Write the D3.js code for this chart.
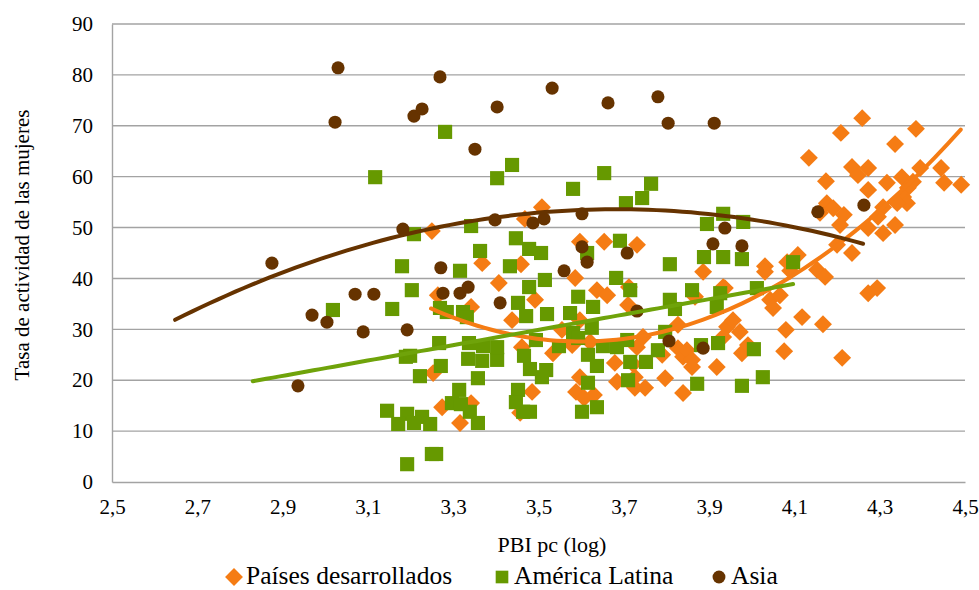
<!DOCTYPE html>
<html>
<head>
<meta charset="utf-8">
<script src="https://cdn.jsdelivr.net/npm/d3@7"></script>
<style>
  html, body { margin: 0; padding: 0; background: #fff; }
  svg text { font-family: "Liberation Serif", "Times New Roman", serif !important; fill: #000; }
</style>
</head>
<body>
<svg id="chart" width="979" height="590"></svg>
<script>
// Tasa de actividad de las mujeres vs. PBI per cápita (log)

const xTicks = [2.5, 2.7, 2.9, 3.1, 3.3, 3.5, 3.7, 3.9, 4.1, 4.3, 4.5];
const yTicks = [0, 10, 20, 30, 40, 50, 60, 70, 80, 90];
const seriesNames = ["Países desarrollados", "América Latina", "Asia"];
const seriesColors = ["#F57C14", "#669900", "#663300"];
const trendColors = ["#F57C14", "#6FA30A", "#663300"];

// Países desarrollados [PBI pc (log), tasa]
const desarrollados = [
  [3.250,49.3],[3.368,43.0],[3.407,39.1],[3.264,36.7],[3.342,34.4],[3.253,21.4],[3.274,14.7],[3.342,15.5],[3.316,11.6],
  [3.508,54.0],[3.468,51.7],[3.597,47.2],[3.654,47.2],[3.731,46.6],[3.459,42.8],[3.586,40.1],[3.886,41.3],
  [3.492,35.8],[3.637,37.7],[3.661,36.7],[3.712,38.3],[3.710,34.8],[3.937,38.1],[3.867,36.4],
  [3.438,31.8],[3.597,31.8],[3.555,29.9],[3.534,25.3],[3.461,26.5],[3.579,26.9],[3.621,27.5],[3.731,26.5],[3.745,28.5],
  [3.790,25.0],[3.679,23.4],[3.722,23.2],[3.797,20.4],[3.726,20.6],[3.684,19.7],[3.827,26.3],[3.839,24.6],[3.860,22.6],
  [3.918,22.6],[3.827,30.9],[3.942,30.5],[3.956,31.8],[3.972,29.5],[3.977,25.3],[3.485,17.7],[3.588,17.7],[3.607,16.5],
  [3.630,17.1],[3.726,18.5],[3.750,18.5],[3.839,17.5],[3.457,13.6],[3.597,20.6],[3.933,38.3],[4.043,35.8],[3.991,26.9],
  [3.933,28.5],[3.848,25.9],[3.860,24.0],
  [4.259,71.5],[4.209,68.6],[4.385,69.4],[4.336,66.4],[4.134,63.7],[4.235,61.9],[4.273,61.7],[4.249,60.3],[4.174,59.1],
  [4.317,58.8],[4.444,61.7],[4.451,58.8],[4.491,58.4],[4.395,61.7],[4.352,59.9],[4.378,59.0],[4.366,57.8],[4.273,57.4],
  [4.355,56.0],[4.364,54.8],[4.176,54.8],[4.191,53.8],[4.216,52.5],[4.160,52.9],[4.308,54.0],[4.296,52.1],[4.341,54.8],
  [4.336,50.5],[4.308,48.9],[4.273,49.9],[4.207,50.5],[4.200,46.6],[4.235,45.0],[4.108,44.6],[4.031,42.4],[4.031,41.3],
  [4.083,43.2],[4.090,41.5],[4.153,41.7],[4.172,40.3],[4.273,37.1],[4.294,38.1],[4.066,36.7],[4.050,34.2],[4.118,32.4],
  [4.080,29.9],[4.167,31.0],[4.076,25.7],[4.212,24.4]
];

// América Latina [PBI pc (log), tasa]
const americaLatina = [
  [3.281,68.8],[3.117,59.9],[3.403,59.7],[3.208,48.7],[3.342,50.3],[3.363,45.4],[3.180,42.4],[3.316,41.5],[3.203,37.7],
  [3.018,33.8],[3.157,34.0],[3.269,34.2],[3.285,33.4],[3.323,33.4],[3.332,32.4],[3.267,27.3],[3.189,24.6],[3.199,24.8],
  [3.271,22.8],[3.222,20.8],[3.337,27.3],[3.370,26.7],[3.335,24.2],[3.368,23.8],[3.403,24.0],[3.403,26.5],[3.358,20.4],
  [3.314,18.1],[3.145,14.0],[3.192,13.4],[3.227,12.8],[3.171,11.4],[3.208,11.6],[3.246,11.4],[3.297,15.5],[3.318,15.3],
  [3.339,13.8],[3.358,11.6],[3.192,3.5],[3.250,5.5],[3.260,5.5],
  [3.438,62.3],[3.581,57.6],[3.654,60.7],[3.764,58.6],[3.743,55.8],[3.705,54.8],[3.933,52.7],[3.895,50.7],[3.980,51.1],
  [3.447,47.9],[3.478,45.8],[3.506,45.0],[3.433,42.4],[3.614,45.0],[3.691,47.4],[3.888,44.2],[3.933,44.2],[3.977,43.8],
  [3.808,42.8],[3.515,39.7],[3.682,40.1],[3.478,38.3],[3.715,37.7],[3.593,36.4],[3.860,37.7],[3.926,37.1],[3.808,35.8],
  [3.820,34.0],[3.918,34.4],[3.452,35.2],[3.471,32.6],[3.520,33.0],[3.574,33.2],[3.628,34.4],[3.625,30.3],[3.581,29.3],
  [3.593,28.3],[3.548,26.7],[3.494,27.9],[3.466,24.8],[3.480,22.2],[3.518,22.0],[3.508,20.6],[3.452,18.1],[3.447,15.7],
  [3.464,13.8],[3.480,13.8],[3.616,19.5],[3.602,13.8],[3.637,14.7],[3.616,25.0],[3.637,22.8],[3.651,26.7],[3.684,26.5],
  [3.708,27.9],[3.715,23.6],[3.752,23.6],[3.780,25.9],[3.797,29.5],[3.710,20.0],[3.881,26.9],[3.921,27.3],[3.872,19.3],
  [3.977,18.9],[4.097,43.2],[4.012,38.1],[4.005,26.1],[4.026,20.6]
];

// Asia [PBI pc (log), tasa]
const asia = [
  [2.875,43.0],[2.936,18.9],[2.969,32.8],[3.004,31.4],[3.023,70.7],[3.030,81.4],[3.070,36.9],[3.089,29.5],[3.114,36.9],
  [3.182,49.7],[3.192,29.9],[3.208,71.9],[3.227,73.3],[3.269,79.6],[3.271,42.1],[3.276,37.1],[3.316,37.1],[3.335,38.3],
  [3.351,65.4],[3.403,73.7],[3.398,51.5],[3.410,35.2],[3.532,77.4],[3.663,74.5],[3.780,75.7],[3.804,70.5],[3.912,70.5],
  [3.487,50.9],[3.513,51.7],[3.602,52.7],[3.602,46.2],[3.614,43.2],[3.560,41.5],[3.708,45.0],[3.937,49.9],[3.909,46.8],
  [3.977,46.4],[3.731,33.6],[3.806,27.7],[3.886,26.3],[4.155,53.1],[4.263,54.4]
];

// Polynomial trend lines: y = c0 + c1*(x - center) + c2*(x - center)^2 over [from, to]
const trendOrange = { center: 3.6, coef: [27.6, 0.03, 52.56], from: 3.248, to: 4.49 };
const trendGreen  = { center: 2.83, coef: [19.8, 15.07, 0], from: 2.83, to: 4.097 };
const trendBrown  = { center: 3.7, coef: [53.6, -0.7, -20.3], from: 2.648, to: 4.261 };

const svg = d3.select("#chart");
const margin = { left: 112, right: 14, top: 24, bottom: 108 };
const W = 979, H = 590;
const FONT = '"Liberation Serif", "Times New Roman", serif';

const x = d3.scaleLinear().domain([2.5, 4.5]).range([margin.left, W - margin.right]);
const y = d3.scaleLinear().domain([0, 90]).range([H - margin.bottom, margin.top]);
const fmt = v => d3.format(".1f")(v).replace(".", ",");

// horizontal gridlines
svg.append("g")
  .selectAll("line")
  .data(yTicks.filter(t => t > 0))
  .join("line")
  .attr("x1", x(2.5)).attr("x2", x(4.5))
  .attr("y1", d => y(d)).attr("y2", d => y(d))
  .attr("stroke", "#a3a3a3").attr("stroke-width", 1.4);

// y axis
const yAxis = svg.append("g")
  .attr("transform", `translate(${x(2.5)},0)`)
  .call(d3.axisLeft(y).tickValues(yTicks).tickSize(0).tickPadding(19).tickFormat(d3.format("d")));
yAxis.attr("font-family", FONT);
yAxis.select(".domain").attr("stroke", "#a3a3a3").attr("stroke-width", 1.4);
yAxis.selectAll("text").attr("font-size", 21).style("font-family", FONT);

// x axis
const xAxis = svg.append("g")
  .attr("transform", `translate(0,${y(0)})`)
  .call(d3.axisBottom(x).tickValues(xTicks).tickSize(0).tickPadding(17).tickFormat(fmt));
xAxis.attr("font-family", FONT);
xAxis.select(".domain").attr("stroke", "#a3a3a3").attr("stroke-width", 1.4);
xAxis.selectAll("text").attr("font-size", 21).style("font-family", FONT);

// axis titles
svg.append("text")
  .attr("x", 552).attr("y", 552)
  .attr("text-anchor", "middle").attr("font-size", 22)
  .style("font-family", FONT)
  .text("PBI pc (log)");
svg.append("text")
  .attr("transform", `translate(29,${y(45) - 8}) rotate(-90)`)
  .attr("text-anchor", "middle").attr("font-size", 21)
  .style("font-family", FONT)
  .text("Tasa de actividad de las mujeres");

// marker shapes
const diamond = d3.symbol().type(d3.symbolSquare).size(160)();
const square = d3.symbol().type(d3.symbolSquare).size(200)();
const circle = d3.symbol().type(d3.symbolCircle).size(135)();

const marks = svg.append("g");
marks.append("g").selectAll("path").data(desarrollados).join("path")
  .attr("d", diamond)
  .attr("transform", d => `translate(${x(d[0])},${y(d[1])}) rotate(45)`)
  .attr("fill", seriesColors[0]);
marks.append("g").selectAll("path").data(americaLatina).join("path")
  .attr("d", square)
  .attr("transform", d => `translate(${x(d[0])},${y(d[1])})`)
  .attr("fill", seriesColors[1]);
marks.append("g").selectAll("path").data(asia).join("path")
  .attr("d", circle)
  .attr("transform", d => `translate(${x(d[0])},${y(d[1])})`)
  .attr("fill", seriesColors[2]);

// trend lines
function trendPoints(t) {
  const n = 80, pts = [];
  for (let i = 0; i <= n; i++) {
    const xv = t.from + (t.to - t.from) * i / n;
    const d = xv - t.center;
    pts.push([xv, t.coef[0] + t.coef[1] * d + t.coef[2] * d * d]);
  }
  return pts;
}
const line = d3.line().x(d => x(d[0])).y(d => y(d[1])).curve(d3.curveLinear);
[trendOrange, trendGreen, trendBrown].forEach((t, i) => {
  svg.append("path")
    .attr("d", line(trendPoints(t)))
    .attr("fill", "none")
    .attr("stroke", trendColors[i])
    .attr("stroke-width", 4)
    .attr("stroke-linecap", "round");
});

// legend
const legendItems = [
  { name: seriesNames[0], color: seriesColors[0], sx: 234, rot: 45 },
  { name: seriesNames[1], color: seriesColors[1], sx: 502, rot: 0 },
  { name: seriesNames[2], color: seriesColors[2], sx: 719, rot: 0 }
];
const legend = svg.append("g");
legendItems.forEach((it, i) => {
  const sym = d3.symbol().type(i === 2 ? d3.symbolCircle : d3.symbolSquare).size(i === 2 ? 130 : 160)();
  legend.append("path")
    .attr("d", sym)
    .attr("transform", `translate(${it.sx},577) rotate(${it.rot})`)
    .attr("fill", it.color);
  legend.append("text")
    .attr("x", it.sx + 12).attr("y", 584)
    .attr("font-size", 25.5)
    .style("font-family", FONT)
    .text(it.name);
});
</script>
</body>
</html>
